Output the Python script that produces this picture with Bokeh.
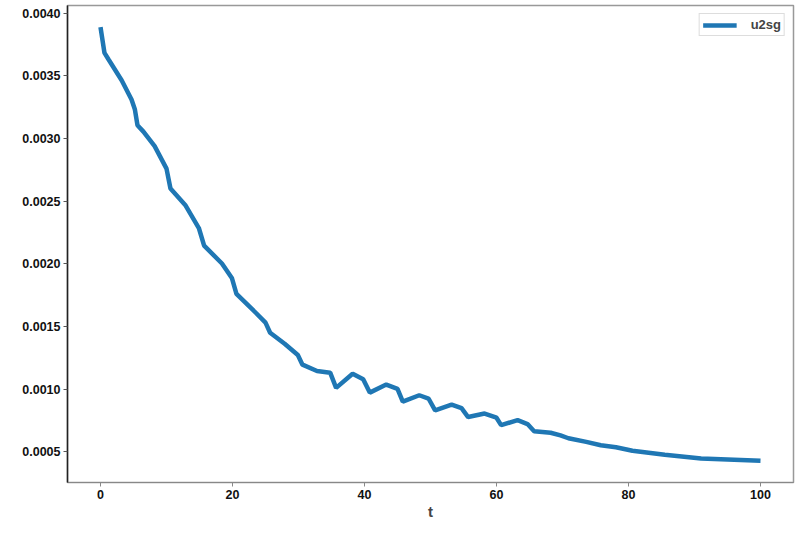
from bokeh.plotting import figure
from bokeh.models import Range1d, FixedTicker, NumeralTickFormatter, Legend, LegendItem
from bokeh.embed import file_html
from bokeh.resources import INLINE

t = [0.0, 0.6, 1.2, 3.2, 4.7, 5.2, 5.6, 6.5, 8.2, 10.0, 10.6, 12.9, 14.9, 15.7,
     18.4, 19.9, 20.6, 23.6, 25.0, 25.7, 27.9, 29.9, 30.6, 32.8, 34.8, 35.7,
     38.2, 39.8, 40.8, 43.3, 45.0, 45.8, 48.3, 49.7, 50.7, 53.2, 54.7, 55.7,
     58.2, 60.0, 60.7, 63.2, 64.7, 65.7, 68.2, 69.7, 70.9, 73.6, 75.8, 78.1,
     80.6, 85.5, 91.0, 100.0]
u2sg = [0.003887, 0.003682, 0.003631, 0.003464, 0.003310, 0.003233, 0.003105,
        0.003054, 0.002938, 0.002759, 0.002600, 0.002464, 0.002285, 0.002144,
        0.002002, 0.001887, 0.001759, 0.001605, 0.001530, 0.001450, 0.001362,
        0.001272, 0.001195, 0.001144, 0.001131, 0.001010, 0.001123, 0.001079,
        0.000972, 0.001036, 0.001002, 0.000900, 0.000951, 0.000925, 0.000831,
        0.000877, 0.000848, 0.000777, 0.000805, 0.000772, 0.000713, 0.000752,
        0.000721, 0.000664, 0.000652, 0.000631, 0.000608, 0.000579, 0.000552,
        0.000536, 0.000508, 0.000477, 0.000446, 0.000428]
x_ticks = [0, 20, 40, 60, 80, 100]
y_ticks = [0.0005, 0.0010, 0.0015, 0.0020, 0.0025, 0.0030, 0.0035, 0.0040]

p = figure(width=795, height=522, output_backend="svg", toolbar_location=None,
           x_range=Range1d(-5, 105), y_range=Range1d(0.000255, 0.00406),
           min_border_left=67, min_border_right=2, min_border_top=5, min_border_bottom=5)

r = p.line(t, u2sg, line_color="#1f77b4", line_width=4.5)

p.xgrid.visible = False
p.ygrid.visible = False
p.outline_line_color = "#999999"
p.outline_line_width = 1.5

font = "Liberation Sans"
p.xaxis.ticker = FixedTicker(ticks=x_ticks)
p.yaxis.ticker = FixedTicker(ticks=y_ticks)
p.yaxis.formatter = NumeralTickFormatter(format="0.0000")
for ax in (p.xaxis[0], p.yaxis[0]):
    ax.major_label_text_font = font
    ax.major_label_text_font_style = "bold"
    ax.major_label_text_font_size = "12.5px"
    ax.major_label_text_color = "#111111"
    ax.minor_tick_line_color = None
    ax.major_tick_out = 4
    ax.major_tick_in = 0
    ax.major_label_standoff = 3
p.xaxis.axis_line_color = "#888888"
p.xaxis.major_tick_line_color = "#888888"
p.yaxis.axis_line_color = "#222222"
p.yaxis.axis_line_width = 1.5
p.yaxis.major_tick_line_color = "#555555"
p.xaxis.axis_label = "t"
p.xaxis.axis_label_text_font = font
p.xaxis.axis_label_text_font_style = "bold"
p.xaxis.axis_label_text_font_size = "15px"
p.xaxis.axis_label_standoff = 1

legend = Legend(items=[LegendItem(label="u2sg", renderers=[r])], location="top_right")
legend.label_text_font = font
legend.label_text_font_style = "bold"
legend.label_text_font_size = "13px"
legend.border_line_color = "#dddddd"
legend.border_line_alpha = 1
legend.glyph_width = 34
legend.glyph_height = 14
legend.padding = 3
legend.margin = 8
legend.label_standoff = 14
p.add_layout(legend)

open("out.html", "w").write(file_html(p, INLINE))
